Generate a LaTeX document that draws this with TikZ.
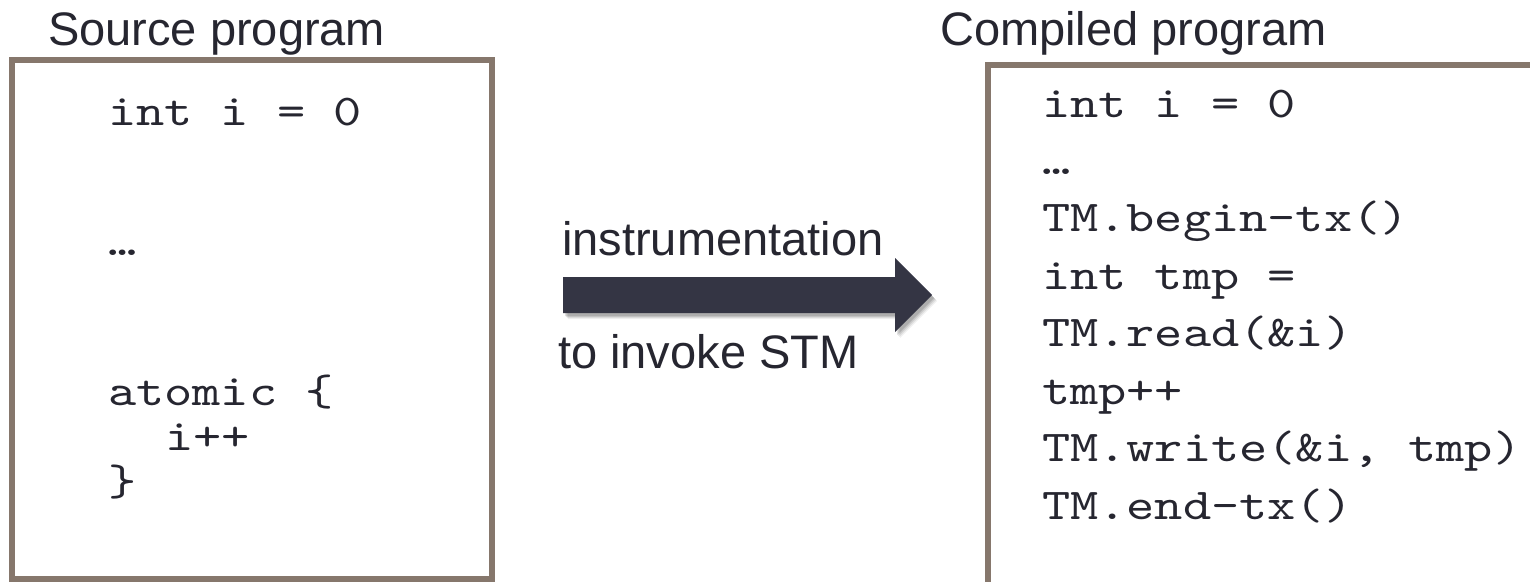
\documentclass[tikz,border=0pt]{standalone}
\usepackage{fontspec}
\setmainfont{Liberation Sans}
\newfontfamily\codefont[FakeStretch=1.22]{lmmono10-regular.otf}
\definecolor{frame}{RGB}{134,119,108}
\definecolor{ink}{RGB}{38,38,48}
\definecolor{arrowfill}{RGB}{52,53,68}
\tikzset{
  label/.style={anchor=base west, inner sep=0pt, text=ink, font=\fontsize{47}{56}\selectfont},
  code/.style={anchor=base west, inner sep=0pt, text=ink, font=\codefont\fontsize{44}{52}\selectfont},
  panel/.style={draw=frame, line width=6pt},
}
\begin{document}
\begin{tikzpicture}[x=1pt,y=-1pt]
\useasboundingbox (0,0) rectangle (1530,581);
\fill[white] (0,0) rectangle (1530,581);

% titles
\node[label] (srctitle) at (48,45) {Source program};
\node[label] (cmptitle) at (940,45) {Compiled program};

% source panel
\draw[panel] (12,60) rectangle (492,579);
\node[code] (s1) at (108,125) {int i = 0};
\node[code] (s2) at (108,255) {…};
\node[code] (s3) at (108,405) {atomic \{};
\node[code] (s4) at (165,450) {i++};
\node[code] (s5) at (108,495) {\}};

% compiled panel (runs off the right and bottom edges)
\draw[panel] (1540,64.5) -- (988,64.5) -- (988,590);
\node[code] (c1) at (1042,117) {int i = 0};
\node[code] (c2) at (1042,174.4) {…};
\node[code] (c3) at (1042,231.9) {TM.begin-tx()};
\node[code] (c4) at (1042,289.3) {int tmp =};
\node[code] (c5) at (1042,346.7) {TM.read(\&i)};
\node[code] (c6) at (1042,404.1) {tmp++};
\node[code] (c7) at (1042,461.6) {TM.write(\&i, tmp)};
\node[code] (c8) at (1042,519) {TM.end-tx()};

% instrumentation arrow with soft shadow
\foreach \o/\a in {6/0.06,5/0.08,4/0.1,3/0.12}{
  \fill[black,opacity=\a,shift={(\o-1,\o)}]
    (563,277) -- (895,277) -- (895,258) -- (932,295) -- (895,332) -- (895,313) -- (563,313) -- cycle;
}
\fill[arrowfill] (563,277) -- (895,277) -- (895,258) -- (932,295) -- (895,332) -- (895,313) -- (563,313) -- cycle;
\coordinate (tip) at (932,295);

\node[label] (instr) at (562,255) {instrumentation};
\node[label] (invoke) at (558,368) {to invoke STM};
\end{tikzpicture}
\end{document}
